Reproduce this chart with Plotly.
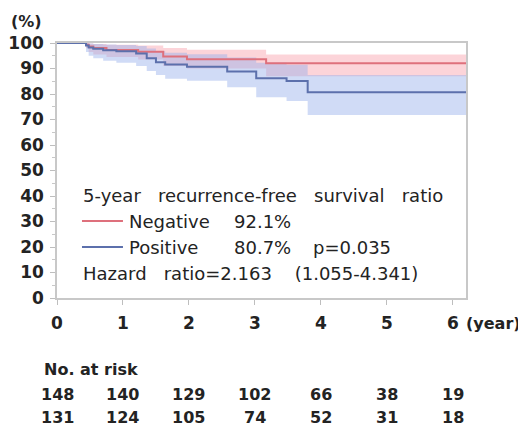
import plotly.graph_objects as go

# ---- data ----
neg_t  = [0, 0.44, 0.48, 0.55, 0.75, 1.23, 1.61, 1.97, 3.17, 6.2]
neg_s  = [100, 99.3, 98.6, 98.0, 97.3, 96.6, 94.7, 93.6, 92.1, 92.1]
neg_hi = [100, 100, 99.8, 99.6, 99.3, 99.0, 98.0, 97.4, 95.5, 95.5]
neg_lo = [100, 98.0, 96.5, 95.5, 94.5, 93.5, 91.0, 90.0, 87.0, 87.0]

pos_t  = [0, 0.44, 0.48, 0.55, 0.7, 0.9, 1.2, 1.36, 1.5, 1.64, 1.97, 2.58, 3.02, 3.48, 3.8, 6.2]
pos_s  = [100, 99.0, 98.2, 97.7, 97.2, 96.8, 95.9, 94.0, 92.5, 91.6, 90.7, 88.8, 86.2, 85.1, 80.7, 80.7]
pos_hi = [100, 100, 99.8, 99.6, 99.4, 99.2, 98.8, 97.8, 96.8, 96.2, 95.6, 94.3, 92.3, 91.5, 87.5, 87.5]
pos_lo = [100, 96.5, 95.0, 94.0, 93.0, 92.3, 91.0, 89.0, 87.5, 86.0, 85.2, 82.6, 78.7, 77.3, 71.8, 71.8]

risk_years = [0, 1, 2, 3, 4, 5, 6]
neg_risk = [148, 140, 129, 102, 66, 38, 19]
pos_risk = [131, 124, 105, 74, 52, 31, 18]

y_ticks = list(range(0, 101, 10))
x_ticks = [0, 1, 2, 3, 4, 5, 6]

title_line = "5-year   recurrence-free   survival   ratio"
neg_name = "Negative"
neg_val = "92.1%"
pos_name = "Positive"
pos_val = "80.7%"
p_text = "p=0.035"
hr_label = "Hazard   ratio=2.163    (1.055-4.341)"

RED = "rgb(222,112,124)"
BLUE = "rgb(92,112,172)"
RED_FILL = "rgba(248,160,170,0.45)"
BLUE_FILL = "rgba(150,175,235,0.45)"
TXT = "rgb(35,35,35)"
FONT = "DejaVu Sans"

fig = go.Figure()

def band(t, lo, hi, fill):
    fig.add_trace(go.Scatter(x=t, y=lo, mode="lines", line=dict(width=0, shape="hv"),
                             showlegend=False, hoverinfo="skip"))
    fig.add_trace(go.Scatter(x=t, y=hi, mode="lines", line=dict(width=0, shape="hv"),
                             fill="tonexty", fillcolor=fill, showlegend=False, hoverinfo="skip"))

band(neg_t, neg_lo, neg_hi, RED_FILL)
band(pos_t, pos_lo, pos_hi, BLUE_FILL)

fig.add_trace(go.Scatter(x=neg_t, y=neg_s, mode="lines", line=dict(color=RED, width=2, shape="hv"),
                         name="Negative", showlegend=False))
fig.add_trace(go.Scatter(x=pos_t, y=pos_s, mode="lines", line=dict(color=BLUE, width=2, shape="hv"),
                         name="Positive", showlegend=False))

# page has an 8px body margin; work in absolute window pixels
OFF = 8
L, T = 57, 43
W, H = 526 - OFF, 427 - OFF
PW = 6.2 * 66
PH = 255

def px_x(px):
    return (px - L) / PW

def px_y(py):
    return (T + PH - py) / PH

def txt(text, x, y, size, anchor="left", bold=False):
    return dict(text=f"<b>{text}</b>" if bold else text, x=px_x(x), y=px_y(y),
                xref="paper", yref="paper", xanchor=anchor, yanchor="middle",
                showarrow=False, font=dict(family=FONT, size=size, color=TXT))

annos = [
    txt("(%)", 9, 21, 16, bold=True),
    txt("(year)", 464, 323, 16, bold=True),
    txt(title_line, 81, 195, 18),
    txt(neg_name, 127, 221, 18),
    txt(neg_val, 232, 221, 18),
    txt(pos_name, 127, 247, 18),
    txt(pos_val, 232, 247, 18),
    txt(p_text, 311, 247, 18),
    txt(hr_label, 81, 273, 18),
    txt("No. at risk", 42, 369, 16, bold=True),
]
for yr, a, b in zip(risk_years, neg_risk, pos_risk):
    annos.append(dict(text=f"<b>{a}</b>", x=yr, y=px_y(394), xref="x", yref="paper",
                      xanchor="center", yanchor="middle", showarrow=False,
                      font=dict(family=FONT, size=16, color=TXT)))
    annos.append(dict(text=f"<b>{b}</b>", x=yr, y=px_y(417), xref="x", yref="paper",
                      xanchor="center", yanchor="middle", showarrow=False,
                      font=dict(family=FONT, size=16, color=TXT)))

shapes = [
    dict(type="line", xref="paper", yref="paper", x0=px_x(82), x1=px_x(123),
         y0=px_y(221), y1=px_y(221), line=dict(color=RED, width=2)),
    dict(type="line", xref="paper", yref="paper", x0=px_x(82), x1=px_x(123),
         y0=px_y(247), y1=px_y(247), line=dict(color=BLUE, width=2)),
]

fig.update_layout(
    width=W, height=H,
    margin=dict(l=L - OFF, r=W - (L - OFF) - PW, t=T - OFF, b=H - (T - OFF) - PH, pad=0,
                autoexpand=False),
    paper_bgcolor="white", plot_bgcolor="white",
    annotations=annos, shapes=shapes,
    showlegend=False,
    xaxis=dict(range=[0, 6.2], tickvals=x_ticks, ticktext=[f"<b>{v}</b>" for v in x_ticks],
               automargin=False,
               showgrid=False, zeroline=False, showline=True, linecolor="rgb(200,200,200)",
               linewidth=1.5, mirror=True, ticks="outside", ticklen=5, tickcolor="rgb(190,190,190)",
               tickfont=dict(family=FONT, size=17, color=TXT), ticklabelstandoff=4),
    yaxis=dict(range=[0, 100], tickvals=y_ticks, ticktext=[f"<b>{v}</b>" for v in y_ticks],
               automargin=False,
               showgrid=False, zeroline=False, showline=True, linecolor="rgb(200,200,200)",
               linewidth=1.5, mirror=True, ticks="outside", ticklen=5, tickcolor="rgb(190,190,190)",
               tickfont=dict(family=FONT, size=17, color=TXT), ticklabelstandoff=3,
               minor=dict(dtick=5, ticks="outside", ticklen=3, tickcolor="rgb(200,200,200)")),
)

fig.write_html("out.html")
